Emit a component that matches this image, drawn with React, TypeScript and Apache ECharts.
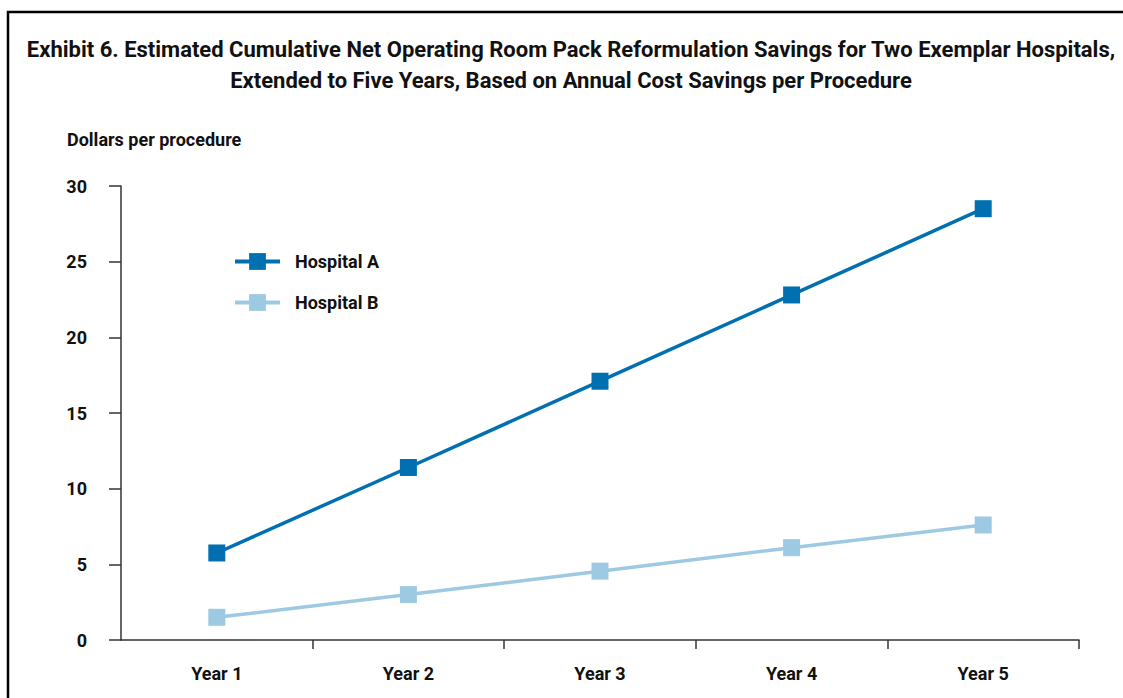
import React, { useEffect, useRef } from "react";
import * as echarts from "echarts";

const years = ["Year 1", "Year 2", "Year 3", "Year 4", "Year 5"];
const hospitalA = [5.75, 11.4, 17.1, 22.8, 28.5];
const hospitalB = [1.5, 3.0, 4.55, 6.1, 7.6];
const titleLine1 =
  "Exhibit 6. Estimated Cumulative Net Operating Room Pack Reformulation Savings for Two Exemplar Hospitals,";
const titleLine2 = "Extended to Five Years, Based on Annual Cost Savings per Procedure";
const yAxisTitle = "Dollars per procedure";

const FONT = "Roboto, 'Noto Sans', sans-serif";
const TXT = "#111111";
const COLOR_A = "#0070b0";
const COLOR_B = "#9dc9e2";

export default function App() {
  const ref = useRef<HTMLDivElement>(null);
  useEffect(() => {
    if (!ref.current) return;
    const chart = echarts.init(ref.current, null, { renderer: "svg" });
    chart.setOption({
      animation: false,
      textStyle: { fontFamily: FONT },
      graphic: [
        {
          type: "rect",
          shape: { x: 8, y: 12, width: 1140, height: 720 },
          style: { fill: "none", stroke: "#000", lineWidth: 2.5 },
          silent: true,
        },
        {
          type: "text",
          x: 571,
          y: 49,
          style: {
            text: titleLine1,
            fontFamily: FONT,
            fontSize: 22,
            fontWeight: "bold",
            fill: TXT,
            align: "center",
            verticalAlign: "middle",
          },
        },
        {
          type: "text",
          x: 571,
          y: 80,
          style: {
            text: titleLine2,
            fontFamily: FONT,
            fontSize: 22,
            fontWeight: "bold",
            fill: TXT,
            align: "center",
            verticalAlign: "middle",
          },
        },
        {
          type: "text",
          x: 67,
          y: 139,
          style: {
            text: yAxisTitle,
            fontFamily: FONT,
            fontSize: 18,
            fontWeight: "bold",
            fill: TXT,
            align: "left",
            verticalAlign: "middle",
          },
        },
      ],
      legend: {
        orient: "vertical",
        left: 228,
        top: 246,
        itemWidth: 45,
        itemHeight: 21,
        itemGap: 20,
        lineStyle: { width: 4 },
        textStyle: {
          fontFamily: FONT,
          fontSize: 18,
          lineHeight: 21,
          fontWeight: "bold",
          color: TXT,
          padding: [0, 0, 0, 10],
        },
        data: ["Hospital A", "Hospital B"],
      },
      grid: { left: 121, right: 44, top: 186, bottom: 58, containLabel: false },
      xAxis: {
        type: "category",
        data: years,
        boundaryGap: true,
        axisLine: { lineStyle: { color: "#333", width: 1.5 } },
        axisTick: {
          show: true,
          length: 9,
          interval: (i: number) => i !== 0,
          lineStyle: { color: "#333", width: 1.5 },
        },
        axisLabel: {
          margin: 24,
          fontFamily: FONT,
          fontSize: 18,
          fontWeight: "bold",
          color: TXT,
        },
        splitLine: { show: false },
      },
      yAxis: {
        type: "value",
        min: 0,
        max: 30,
        interval: 5,
        axisLine: { show: true, lineStyle: { color: "#333", width: 1.5 } },
        axisTick: { show: true, length: 12, lineStyle: { color: "#333", width: 1.5 } },
        axisLabel: {
          margin: 34,
          fontFamily: FONT,
          fontSize: 18,
          fontWeight: "bold",
          color: TXT,
        },
        splitLine: { show: false },
      },
      series: [
        {
          name: "Hospital A",
          type: "line",
          data: hospitalA,
          symbol: "rect",
          symbolSize: 17,
          lineStyle: { color: COLOR_A, width: 3.5 },
          itemStyle: { color: COLOR_A },
        },
        {
          name: "Hospital B",
          type: "line",
          data: hospitalB,
          symbol: "rect",
          symbolSize: 17,
          lineStyle: { color: COLOR_B, width: 3.5 },
          itemStyle: { color: COLOR_B },
        },
      ],
    });
    return () => chart.dispose();
  }, []);
  return <div ref={ref} style={{ width: 1123, height: 698, position: "absolute", left: 0, top: 0 }} />;
}
